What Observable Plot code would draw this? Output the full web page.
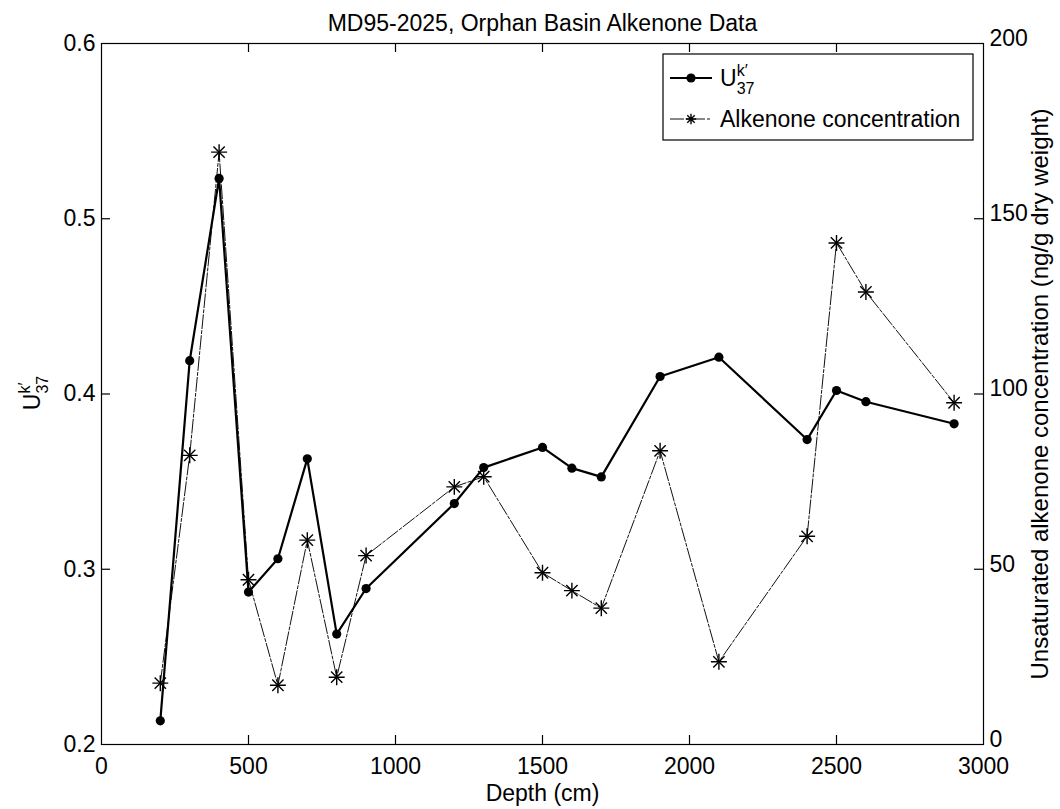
<!DOCTYPE html>
<html><head><meta charset="utf-8">
<script src="https://cdn.jsdelivr.net/npm/d3@7"></script>
<script src="https://cdn.jsdelivr.net/npm/@observablehq/plot@0.6"></script>
<style>
body{margin:0;background:#fff;}
#chart{width:1060px;height:809px;}
svg text{font-family:"Liberation Sans",Arial,sans-serif;}
</style></head><body><div id="chart"></div>
<script>
// ---- data ----
const depth = [200,300,400,500,600,700,800,900,1200,1300,1500,1600,1700,1900,2100,2400,2500,2600,2900];
const uk37 = [0.2135,0.419,0.523,0.287,0.306,0.363,0.263,0.289,0.3375,0.358,0.3695,0.3577,0.3527,0.410,0.421,0.374,0.402,0.3956,0.383];
const alkenone = [17.5,82.5,169,47,16.9,58.3,19.2,53.9,73.5,76.4,49,43.9,38.9,83.8,23.6,59.4,143.1,129.1,97.5];
const xTicks = [0,500,1000,1500,2000,2500,3000];
const leftTicks = [0.2,0.3,0.4,0.5,0.6];
const rightTicks = [0,50,100,150,200];
const titleText = "MD95-2025, Orphan Basin Alkenone Data";
const xLabel = "Depth (cm)";
const rightLabel = "Unsaturated alkenone concentration (ng/g dry weight)";
const legendLabels = ["Alkenone concentration"];

// ---- chart ----
const rows = depth.map((d,i)=>({depth:d, u:uk37[i], c:alkenone[i]}));
const toU = c => 0.2 + c/500;   // right axis 0..200 mapped onto 0.2..0.6
const W=1060,H=809,mL=101,mR=77,mT=43,mB=65;
const pw=W-mL-mR, ph=H-mT-mB, tk=9;
const FS=23;

const plot = Plot.plot({
  width:W, height:H, marginLeft:mL, marginRight:mR, marginTop:mT, marginBottom:mB,
  style:{fontFamily:'"Liberation Sans", Arial, sans-serif', fontSize:FS+"px", color:"#000", background:"#fff", overflow:"visible"},
  x:{domain:[0,3000]},
  y:{domain:[0.2,0.6]},
  marks:[
    Plot.frame({stroke:"#000", strokeWidth:1.2}),
    Plot.tickX(xTicks.slice(1,-1), {x:d=>d, insetTop:ph-tk, stroke:"#000", strokeWidth:1.2}),
    Plot.tickX(xTicks.slice(1,-1), {x:d=>d, insetBottom:ph-tk, stroke:"#000", strokeWidth:1.2}),
    Plot.tickY(leftTicks.slice(1,-1), {y:d=>d, insetRight:pw-tk, stroke:"#000", strokeWidth:1.2}),
    Plot.tickY(rightTicks.slice(1,-1), {y:d=>toU(d), insetLeft:pw-tk, stroke:"#000", strokeWidth:1.2}),
    Plot.axisX(xTicks, {anchor:"bottom", tickSize:0, tickPadding:13, tickFormat:d=>String(d), label:null, fontSize:FS}),
    Plot.axisY(leftTicks, {anchor:"left", tickSize:0, tickPadding:6, tickFormat:d=>d.toFixed(1), label:null, fontSize:FS}),
    Plot.axisY(rightTicks.map(toU), {anchor:"right", tickSize:0, tickPadding:6, dy:-5, tickFormat:u=>String(Math.round((u-0.2)*500)), label:null, fontSize:FS}),
    Plot.text([xLabel], {text:d=>d, frameAnchor:"bottom", dy:56, fontSize:FS}),
    Plot.text([rightLabel], {text:d=>d, frameAnchor:"right", textAnchor:"middle", dx:57, rotate:-90, fontSize:24}),
    Plot.text([titleText], {text:d=>d, frameAnchor:"top", dy:-29, fontSize:FS}),
    Plot.line(rows, {x:"depth", y:d=>toU(d.c), stroke:"#111", strokeWidth:1, strokeDasharray:"14,2,3,2"}),
    Plot.dot(rows, {x:"depth", y:d=>toU(d.c), symbol:"plus", r:5.2, stroke:"#000", strokeWidth:1.4}),
    Plot.dot(rows, {x:"depth", y:d=>toU(d.c), symbol:"times", r:5.2, stroke:"#000", strokeWidth:1.4}),
    Plot.line(rows, {x:"depth", y:"u", stroke:"#000", strokeWidth:2.2}),
    Plot.dot(rows, {x:"depth", y:"u", r:4.6, fill:"#000", stroke:"none"})
  ]
});
document.getElementById("chart").appendChild(plot);

// left axis label with super/subscript
const svg = d3.select(plot);
const yl = svg.append("text").attr("transform","translate(40,393) rotate(-90)")
  .attr("text-anchor","middle").attr("font-size",FS).attr("fill","#000");
yl.append("tspan").text("U");
yl.append("tspan").attr("font-size",16).attr("dy",-10).text("k\u2032");
yl.append("tspan").attr("font-size",16).attr("dx",-11).attr("dy",18).text("37");

// legend
const lg = svg.append("g").attr("text-anchor","start");
lg.append("rect").attr("x",663).attr("y",54).attr("width",310).attr("height",86)
  .attr("fill","#fff").attr("stroke","#000").attr("stroke-width",1.2);
lg.append("line").attr("x1",670).attr("x2",712).attr("y1",78).attr("y2",78).attr("stroke","#000").attr("stroke-width",2.2);
lg.append("circle").attr("cx",691).attr("cy",78).attr("r",4.6).attr("fill","#000");
const l1 = lg.append("text").attr("x",720).attr("y",86).attr("font-size",FS).attr("fill","#000").attr("text-anchor","start");
l1.append("tspan").text("U");
l1.append("tspan").attr("font-size",16).attr("dy",-10).text("k\u2032");
l1.append("tspan").attr("font-size",16).attr("dx",-11).attr("dy",18).text("37");
lg.append("line").attr("x1",670).attr("x2",712).attr("y1",119).attr("y2",119).attr("stroke","#111").attr("stroke-width",1).attr("stroke-dasharray","14,2,3,2");
lg.append("path").attr("d","M685.8,119H696.2M691,113.8V124.2M687.3,115.3L694.7,122.7M694.7,115.3L687.3,122.7").attr("stroke","#000").attr("stroke-width",1.4);
lg.append("text").attr("x",720).attr("y",127).attr("font-size",FS).attr("fill","#000").attr("text-anchor","start").text(legendLabels[0]);
</script></body></html>
